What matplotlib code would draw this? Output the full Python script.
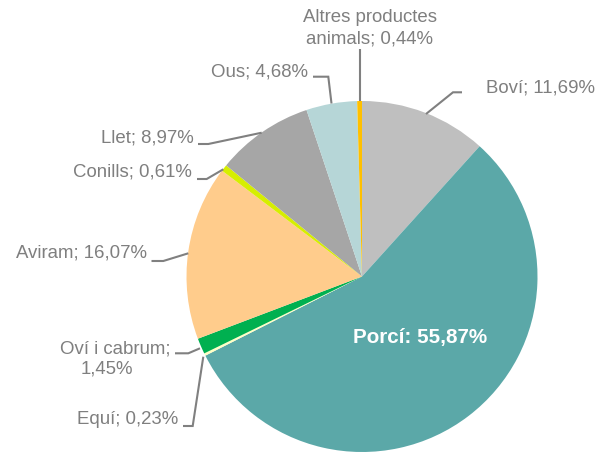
import matplotlib
matplotlib.use("Agg")
import matplotlib.pyplot as plt

plt.rcParams['font.family'] = ['Liberation Sans', 'DejaVu Sans']

categories = ["Boví", "Porcí", "Equí", "Oví i cabrum", "Aviram", "Conills", "Llet", "Ous",
              "Altres productes animals"]
values = [11.69, 55.87, 0.23, 1.45, 16.07, 0.61, 8.97, 4.68, 0.44]
colors = ["#BFBFBF", "#5BA8A8", "#FFFFC4", "#00B050", "#FFCC8C", "#D6EE00", "#A6A6A6",
          "#B6D6D7", "#FFC000"]

W, H = 598, 454
fig = plt.figure(figsize=(W / 100, H / 100), dpi=100)
ax = fig.add_axes([0, 0, 1, 1])

def Y(y):
    return H - y

cx, cy, r = 362, 276.5, 175.5
ax.pie(values, colors=colors, startangle=90, counterclock=False,
       center=(cx, Y(cy)), radius=r, wedgeprops=dict(linewidth=0))
ax.set_xlim(0, W)
ax.set_ylim(0, H)
ax.set_aspect('auto')
ax.axis('off')

def fmt(v):
    return f"{v:.2f}".replace(".", ",") + "%"

tc = "#7F7F7F"
fs = 13.4
lc = "#808080"

def leader(pts):
    ax.plot([p[0] for p in pts], [Y(p[1]) for p in pts], color=lc, lw=1.5,
            solid_capstyle='butt', solid_joinstyle='miter')

# Altres productes animals
ax.text(370, Y(17), "Altres productes", ha='center', va='center', fontsize=fs, color=tc)
ax.text(370, Y(39), f"animals; {fmt(values[8])}", ha='center', va='center', fontsize=fs, color=tc)
leader([(359.5, 49), (359.5, 101)])

# Boví
ax.text(486, Y(88), f"{categories[0]}; {fmt(values[0])}", ha='left', va='center', fontsize=fs, color=tc)
leader([(462, 92.3), (453, 92.3), (426, 114)])

# Ous
ax.text(308, Y(72), f"{categories[7]}; {fmt(values[7])}", ha='right', va='center', fontsize=fs, color=tc)
leader([(313, 76.7), (328.3, 76.7), (331.5, 103.5)])

# Llet
ax.text(193.5, Y(138), f"{categories[6]}; {fmt(values[6])}", ha='right', va='center', fontsize=fs, color=tc)
leader([(198, 144), (208.3, 144), (261.7, 132.7)])

# Conills
ax.text(192, Y(172), f"{categories[5]}; {fmt(values[5])}", ha='right', va='center', fontsize=fs, color=tc)
leader([(197, 179), (206.7, 179), (223.3, 169.3)])

# Aviram
ax.text(147, Y(253.5), f"{categories[4]}; {fmt(values[4])}", ha='right', va='center', fontsize=fs, color=tc)
leader([(151.5, 261), (163.3, 261), (188.3, 253.3)])

# Oví i cabrum
ax.text(170.5, Y(348.5), f"{categories[3]};", ha='right', va='center', fontsize=fs, color=tc)
ax.text(107, Y(369), fmt(values[3]), ha='center', va='center', fontsize=fs, color=tc)
leader([(175, 353.3), (188.3, 353.3), (200, 348.3)])

# Equí
ax.text(178.5, Y(419.5), f"{categories[2]}; {fmt(values[2])}", ha='right', va='center', fontsize=fs, color=tc)
leader([(183, 426), (192.7, 426), (203.3, 356.7)])

# Porcí
ax.text(420.5, Y(337), f"{categories[1]}: {fmt(values[1])}", ha='center', va='center',
        fontsize=14.9, color='white', fontweight='bold')

fig.savefig("out.png", dpi=100)
